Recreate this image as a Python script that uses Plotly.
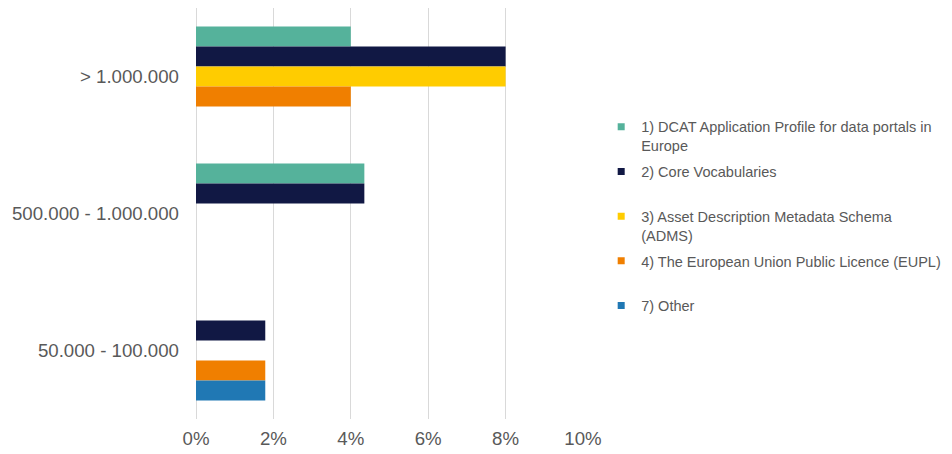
import plotly.graph_objects as go

# population size classes (top to bottom)
categories = ["> 1.000.000", "500.000 - 1.000.000", "50.000 - 100.000"]

# share of respondents using each specification, per class
dcat_ap = [0.04, 0.0435, None]
core_vocabularies = [0.08, 0.0435, 0.0179]
adms = [0.08, None, None]
eupl = [0.04, None, 0.0179]
other = [None, None, 0.0179]

series_names = [
    "1) DCAT Application Profile for data portals in<br>Europe",
    "2) Core Vocabularies<br> ",
    "3) Asset Description Metadata Schema<br>(ADMS)",
    "4) The European Union Public Licence (EUPL)<br> ",
    "7) Other<br> ",
]
series_values = [dcat_ap, core_vocabularies, adms, eupl, other]
colors = ["#55B29B", "#111844", "#FFCC00", "#F07F00", "#2078B4"]

fig = go.Figure()
for i, (name, vals) in enumerate(zip(series_names, series_values)):
    fig.add_trace(go.Bar(
        y=categories,
        x=vals,
        name=name,
        orientation="h",
        marker=dict(color=colors[i], line=dict(width=0)),
        showlegend=False,
        legendgroup=str(i),
        hoverinfo="skip",
    ))
    # small square legend key, like the original
    fig.add_trace(go.Scatter(
        x=[None], y=[None],
        mode="markers",
        name=name,
        marker=dict(symbol="square", size=7, color=colors[i]),
        legendgroup=str(i),
        hoverinfo="skip",
    ))

# the page body adds an 8px margin, so the figure is sized to fit inside it
fig.update_layout(
    width=944,
    height=446,
    barmode="group",
    bargap=0.27,
    bargroupgap=0,
    paper_bgcolor="white",
    plot_bgcolor="white",
    margin=dict(l=188, r=369, t=0, b=35, autoexpand=False),
    font=dict(family="Liberation Sans, Arial, sans-serif", color="#595959"),
    legend=dict(
        x=1.047, xanchor="left",
        y=0.47, yanchor="middle",
        font=dict(size=14.5, color="#595959"),
        tracegroupgap=4,
        itemwidth=30,
        valign="top",
        traceorder="grouped",
    ),
)

fig.update_xaxes(
    range=[0, 0.10],
    dtick=0.02,
    tickformat=".0%",
    showgrid=True,
    gridcolor="#D9D9D9",
    gridwidth=1,
    zeroline=True,
    zerolinecolor="#D9D9D9",
    zerolinewidth=1,
    tickfont=dict(size=18.67, color="#595959"),
    ticks="",
    ticklabelstandoff=6,
    fixedrange=True,
)
fig.update_yaxes(
    autorange="reversed",
    tickfont=dict(size=18.67, color="#595959"),
    ticks="",
    ticklabelstandoff=16,
    showline=False,
    fixedrange=True,
)

fig.write_html("out.html")
